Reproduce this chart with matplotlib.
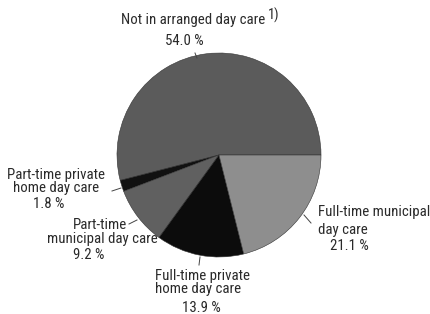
import matplotlib.pyplot as plt
from matplotlib import font_manager

# Shares of children by type of day care, counter-clockwise from 3 o'clock
categories = [
    "Not in arranged day care",
    "Part-time private home day care",
    "Part-time municipal day care",
    "Full-time private home day care",
    "Full-time municipal day care",
]
shares = [54.0, 1.8, 9.2, 13.9, 21.1]
colors = ["#5b5b5b", "#111111", "#606060", "#0c0c0c", "#8e8e8e"]

W, H = 430, 314

# pick a condensed face if one is installed, else shrink DejaVu
fonts = {(f.name, f.stretch) for f in font_manager.fontManager.ttflist}
font_kw = {"family": "DejaVu Sans", "size": 8.4}
for name, stretch in sorted(fonts):
    if name == "DejaVu Sans" and stretch in ("condensed", "semi-condensed"):
        font_kw = {"family": "DejaVu Sans", "stretch": "condensed", "size": 10}
for name in ("Liberation Sans Narrow", "Roboto Condensed", "Open Sans Condensed"):
    if any(n == name for n, _ in fonts):
        font_kw = {"family": name, "size": 10.7}
        break

fig = plt.figure(figsize=(W / 100, H / 100), dpi=100)
ax = fig.add_axes([0, 0, 1, 1])

ax.pie(shares, colors=colors, startangle=0, counterclock=True,
       center=(219, H - 155), radius=102,
       wedgeprops={"linewidth": 0.4, "edgecolor": "#333333"})
ax.set_xlim(0, W)
ax.set_ylim(0, H)
ax.set_aspect("equal")
ax.axis("off")

tc = "#2a2a2a"


def txt(x, y, s, ha="left"):
    return ax.text(x, H - y, s, ha=ha, va="center", color=tc, **font_kw)


def lead(x0, y0, x1, y1):
    ax.plot([x0, x1], [H - y0, H - y1], color="#444444", lw=0.7)


# top label
t = txt(193, 20, "Not in arranged day care", ha="center")
ax.annotate("1)", xy=(1, 0.8), xycoords=t, xytext=(2, 0),
            textcoords="offset points", ha="left", va="center", color=tc,
            **{**font_kw, "size": font_kw["size"] * 0.95})
txt(184, 41, f"{shares[0]:.1f} %", ha="center")
lead(195, 53, 197, 58)

# part-time private
txt(56, 175, "Part-time private", ha="center")
txt(56, 188, "home day care", ha="center")
txt(49, 204, f"{shares[1]:.1f} %", ha="center")
lead(112, 191, 121, 188)

# part-time municipal
txt(100, 225, "Part-time", ha="center")
txt(102, 239, "municipal day care", ha="center")
txt(89, 255, f"{shares[2]:.1f} %", ha="center")
lead(129, 224, 137, 220)

# full-time private
txt(155, 276, "Full-time private")
txt(155, 289, "home day care")
txt(201, 308, f"{shares[3]:.1f} %", ha="center")
lead(200, 257, 199, 265)

# full-time municipal
txt(318, 212, "Full-time municipal")
txt(318, 230, "day care")
txt(349, 246, f"{shares[4]:.1f} %", ha="center")
lead(304, 215, 311, 223)

fig.savefig("out.png", dpi=100)
